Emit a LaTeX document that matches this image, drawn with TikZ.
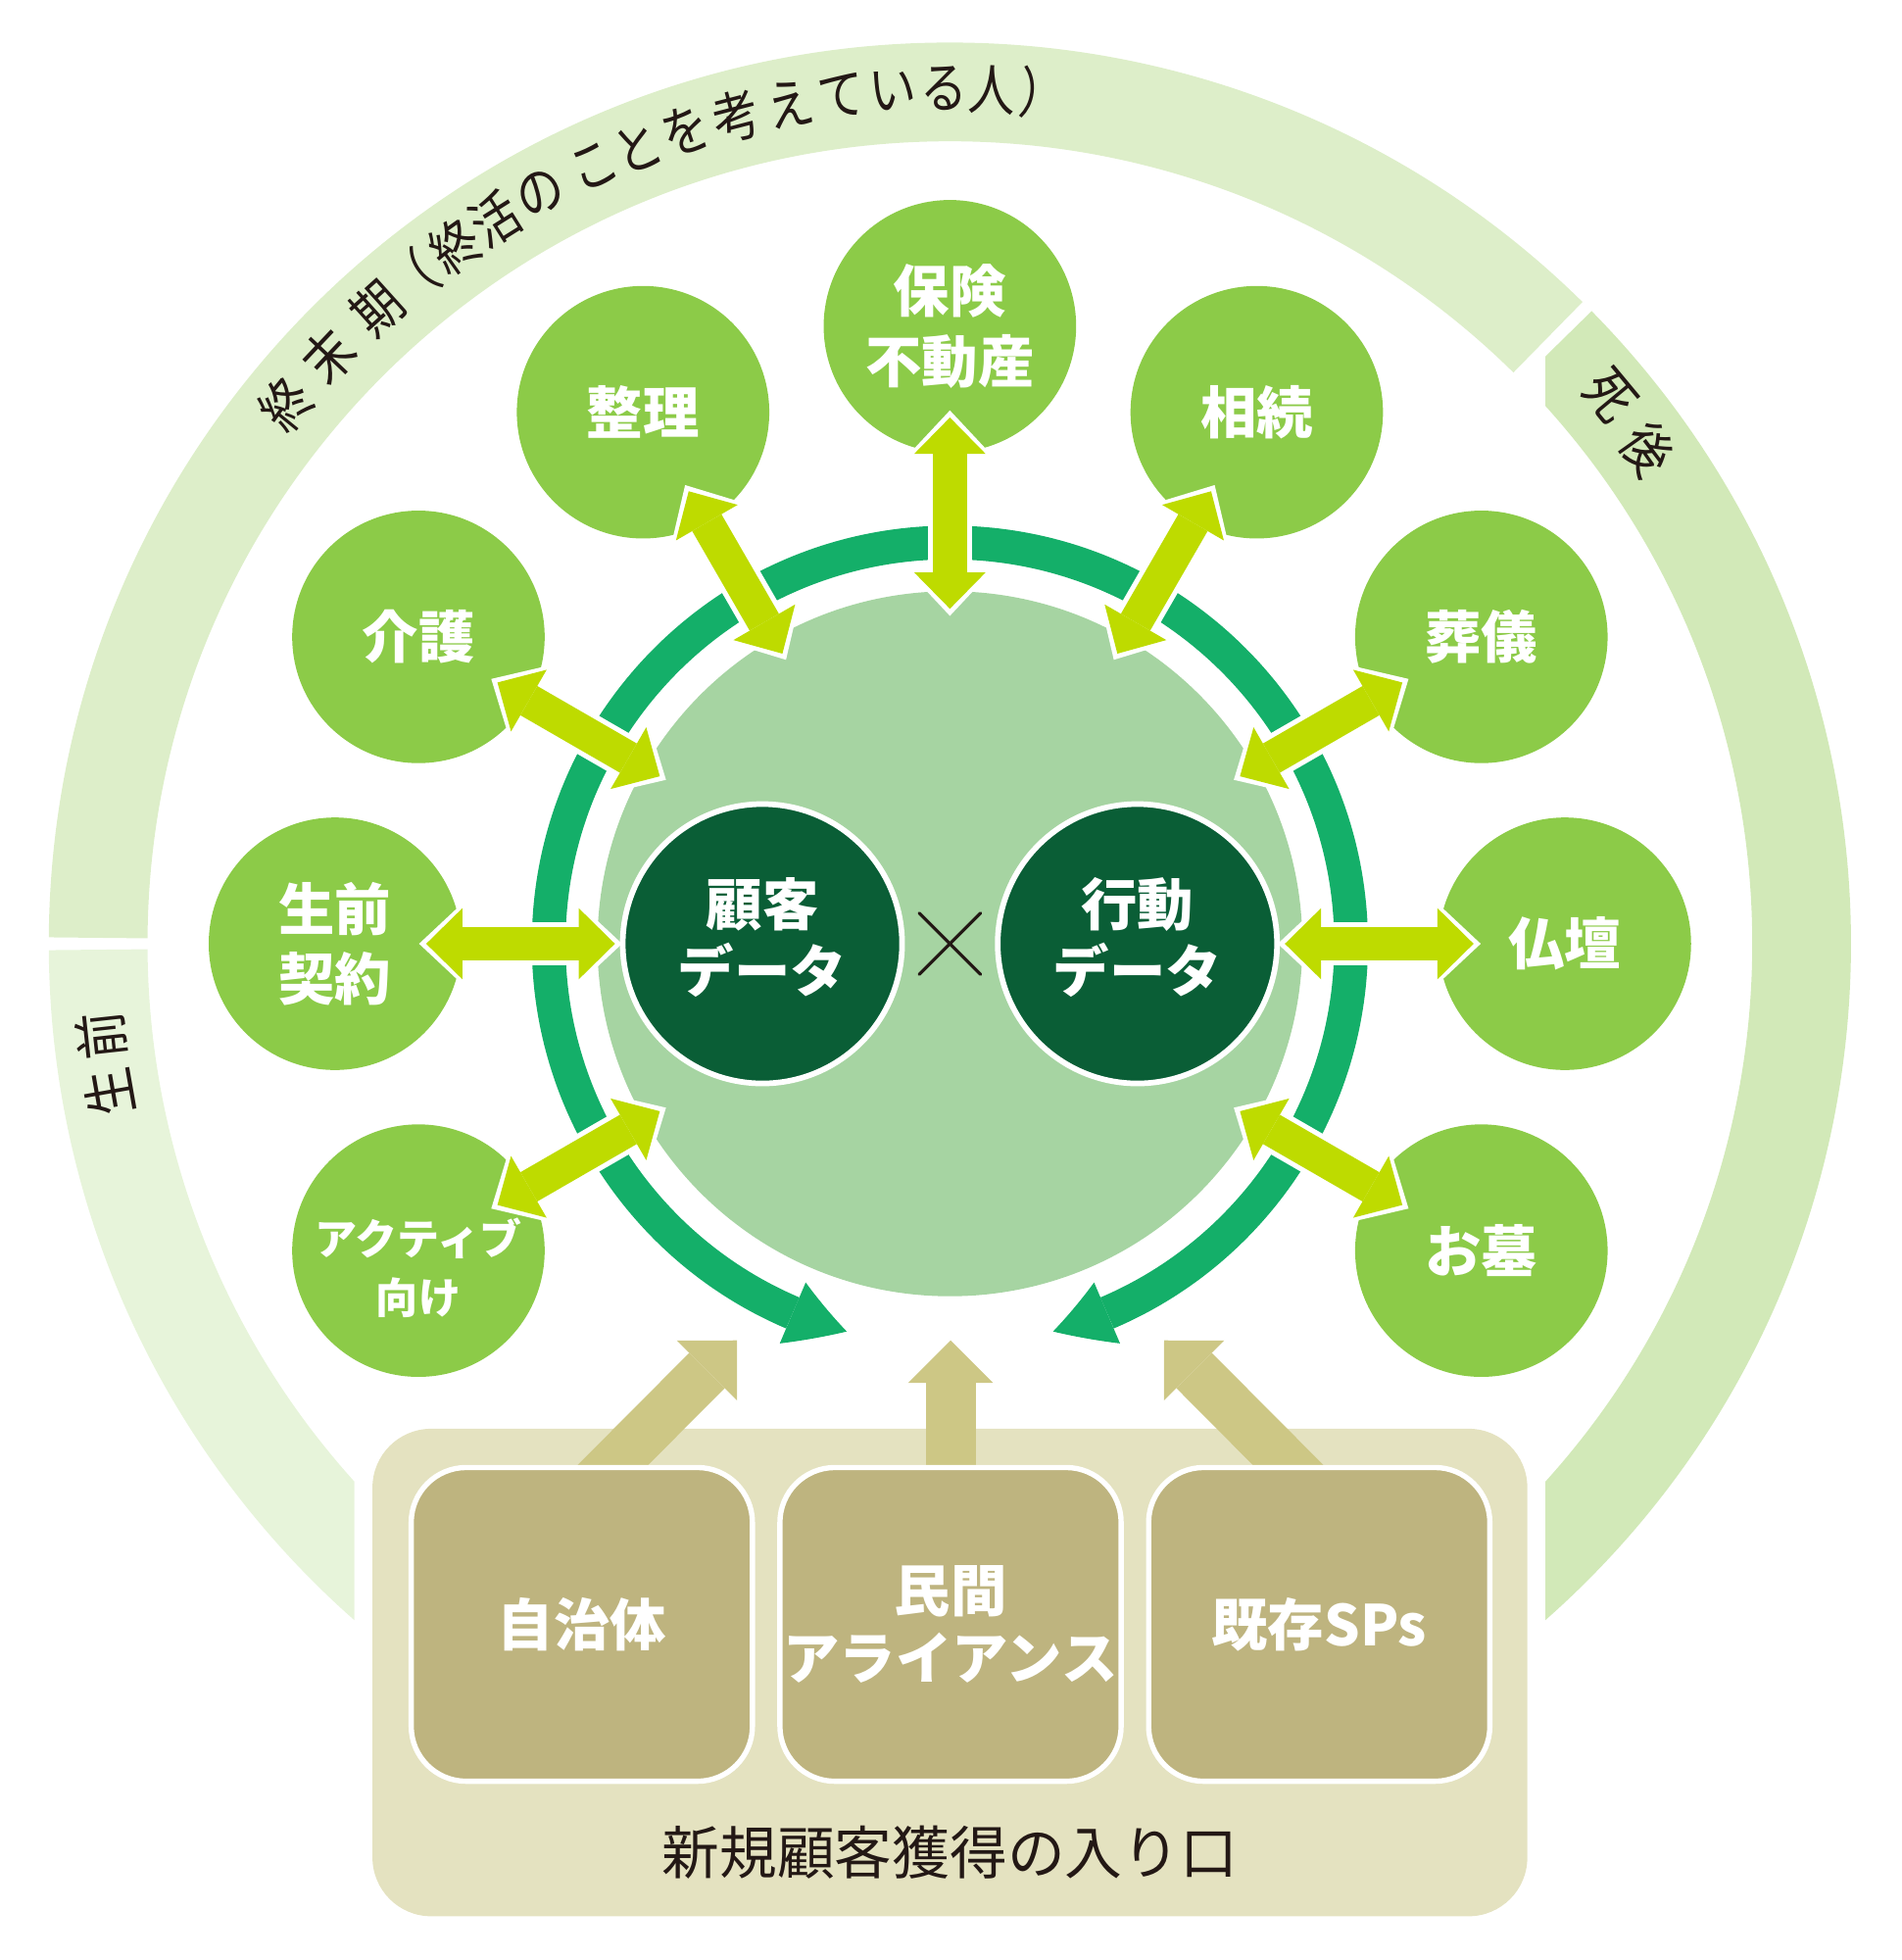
\documentclass[tikz,border=0pt]{standalone}
\usepackage{fontspec}
\setmainfont{Noto Sans CJK JP}
\newfontfamily\ringfont[FakeStretch=0.85]{Noto Sans CJK JP}
\usetikzlibrary{arrows.meta}
\usetikzlibrary{bending}

\definecolor{ringlate}{HTML}{DDEEC9}
\definecolor{ringafter}{HTML}{D2E9B8}
\definecolor{ringbefore}{HTML}{E7F4DA}
\definecolor{leaf}{HTML}{8CCB48}
\definecolor{linkgreen}{HTML}{BEDB00}
\definecolor{cyclegreen}{HTML}{14AF69}
\definecolor{hubgreen}{HTML}{A6D4A2}
\definecolor{datagreen}{HTML}{0A5E36}
\definecolor{portalbg}{HTML}{E4E2C0}
\definecolor{gatebg}{HTML}{BEB47F}
\definecolor{gateflow}{HTML}{CDC785}
\definecolor{inkblack}{HTML}{231815}

\pgfdeclarelayer{back}
\pgfsetlayers{back,main}

\tikzset{
  ringband/.style={line width=7.9mm},
  ringtext/.style={inner sep=0pt, text=inkblack, font=\ringfont\fontsize{12.6}{12.6}\selectfont},
  hub/.style={circle, fill=hubgreen, minimum size=56.4mm, inner sep=0pt, outer sep=0pt},
  cyclearrow/.style={draw=cyclegreen, line width=2.7mm,
    -{Triangle[length=4.6mm,width=5.3mm,line width=0pt,bend]}},
  satellite/.style={circle, fill=leaf, minimum size=20.2mm, inner sep=0pt, outer sep=0pt,
    text=white, align=center, font=\bfseries\fontsize{12.8}{15.9}\selectfont},
  activetext/.style={inner sep=0pt, text=white, align=center,
    font=\bfseries\fontsize{9.6}{13.4}\selectfont},
  datacircle/.style={circle, fill=datagreen, draw=white, line width=0.45mm,
    minimum size=22.35mm, inner sep=0pt},
  datatext/.style={inner sep=0pt, text=white, align=center,
    font=\bfseries\fontsize{12.8}{15.1}\selectfont},
  timesmark/.style={draw=inkblack, line width=0.26mm, line cap=round},
  linkedge/.style={draw=white, line width=3.5mm,
    {Triangle[length=3.9mm,width=7.3mm,line width=0pt]}-{Triangle[length=3.9mm,width=7.3mm,line width=0pt]},
    shorten <=-1.97mm, shorten >=-3.37mm},
  linkarrow/.style={draw=linkgreen, line width=2.7mm,
    {Triangle[length=2.9mm,width=5.7mm,line width=0pt]}-{Triangle[length=2.9mm,width=5.7mm,line width=0pt]},
    shorten <=-1.4mm, shorten >=-2.8mm},
  portal/.style={rectangle, rounded corners=4.7mm, fill=portalbg,
    minimum width=92.4mm, minimum height=39mm, inner sep=0pt},
  inflow/.style={draw=gateflow, line width=4mm,
    -{Triangle[length=3.4mm,width=6.8mm,line width=0pt]}, shorten <=-4mm},
  gate/.style={rectangle, rounded corners=4.4mm, fill=gatebg, draw=white, line width=0.42mm,
    minimum width=27.3mm, minimum height=25.1mm, inner sep=0pt, text=white, align=center,
    font=\bfseries\fontsize{12.8}{15.4}\selectfont},
  portaltext/.style={inner sep=0pt, text=inkblack, font=\fontsize{13.1}{13.1}\selectfont}
}

\begin{document}
\begin{tikzpicture}[x=0.1mm, y=0.1mm]
  \useasboundingbox (-760,-813) rectangle (761,755);

  \draw[ringband, ringlate] (179.6:681.5) arc[start angle=179.6, end angle=45.4, radius=681.5];
  \begin{scope}
    \clip (-800,-900) rectangle (-476.5,0);
    \draw[ringband, ringbefore] (180.4:681.5) arc[start angle=180.4, end angle=260, radius=681.5];
  \end{scope}
  \begin{scope}
    \clip (476.5,-900) rectangle (800,700);
    \draw[ringband, ringafter] (44.6:681.5) arc[start angle=44.6, end angle=-80, radius=681.5];
  \end{scope}

  \foreach \ch/\ang [count=\k] in {終/140.9,末/136.6,期/132.0,（/129.0,終/125.3,活/122.1,の/118.6,こ/114.6,と/111.4,を/108.0,考/104.5,え/100.8,て/97.3,い/93.8,る/90.4,人/87.2,）/83.7} {
    \node[ringtext, rotate=\ang-90] (late\k) at (\ang:684) {\ch};
  }
  \node[ringtext, rotate=-50.3] (after1) at (39.7:686) {死};
  \node[ringtext, rotate=-54.7] (after2) at (35.3:684) {後};
  \node[ringtext, rotate=100] (before1) at (190:683) {生};
  \node[ringtext, rotate=96.2] (before2) at (186.2:683) {前};

  \node[hub] (hub) at (0,0) {};
  \draw[cyclearrow] (90:321) arc[start angle=90, end angle=255.1, radius=321];
  \draw[cyclearrow] (90:321) arc[start angle=90, end angle=-75.1, radius=321];

  \node[satellite] (hoken) at (90:494) {保険\\不動産};
  \node[satellite] (seiri) at (120:491) {整理};
  \node[satellite] (souzoku) at (60:491) {相続};
  \node[satellite] (kaigo) at (150:491) {介護};
  \node[satellite] (sougi) at (30:491) {葬儀};
  \node[satellite] (seizen) at (180:492) {生前\\契約};
  \node[satellite] (butsudan) at (0:492) {仏壇};
  \node[satellite] (active) at (210:491) {};
  \node[activetext] (activelabel) at ([yshift=-1.4mm]active.center) {アクティブ\\向け};
  \node[satellite] (ohaka) at (-30:491) {お墓};

  \node[datacircle] (kokyaku) at (-150,0) {};
  \node[datatext] (kokyakulabel) at ([yshift=0.5mm]kokyaku.center) {顧客\\データ};
  \node[datacircle] (koudou) at (150,0) {};
  \node[datatext] (koudoulabel) at ([yshift=0.5mm]koudou.center) {行動\\データ};
  \draw[timesmark] (-24.5,-24.5) -- (24.5,24.5);
  \draw[timesmark] (-24.5,24.5) -- (24.5,-24.5);

  \foreach \sat in {hoken,seiri,souzoku,kaigo,sougi,seizen,butsudan,active,ohaka} {
    \draw[linkedge] (hub) -- (\sat);
    \draw[linkarrow] (hub) -- (\sat);
  }

  \node[gate] (jichitai) at (-294.5,-544.5) {自治体};
  \node[gate] (minkan) at (0.5,-544.5) {民間\\アライアンス};
  \node[gate] (kison) at (295.5,-544.5) {既存SPs};
  \node[portaltext] (portallabel) at (0,-727) {新規顧客獲得の入り口};

  \coordinate (inlet1) at (-170.4,-317.3);
  \coordinate (inlet2) at (0.5,-317.3);
  \coordinate (inlet3) at (171.4,-317.3);
  \begin{pgfonlayer}{back}
    \node[portal] (portal) at (0,-583) {};
    \draw[inflow] ([xshift=2.5mm]jichitai.north) -- (inlet1);
    \draw[inflow] (minkan.north) -- (inlet2);
    \draw[inflow] ([xshift=-2.5mm]kison.north) -- (inlet3);
  \end{pgfonlayer}
\end{tikzpicture}
\end{document}
